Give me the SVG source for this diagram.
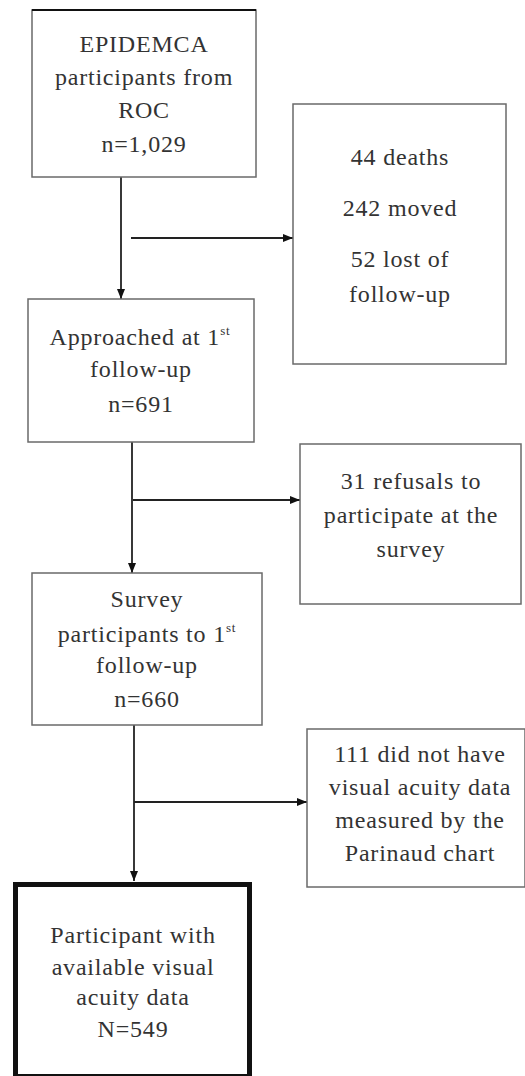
<svg xmlns="http://www.w3.org/2000/svg" width="525" height="1076" viewBox="0 0 525 1076">
<defs>
<marker id="ah" markerWidth="10" markerHeight="8" refX="10" refY="4" orient="auto" markerUnits="userSpaceOnUse">
<path d="M0,0 L10,4 L0,8 Z" fill="#111"/>
</marker>
<style>
.box{fill:#fff;stroke:#6a6a6a;stroke-width:1.5}
.thick{fill:#fff;stroke:#111;stroke-width:5}
text{font-family:'Liberation Serif','Times New Roman',serif;font-size:24px;fill:#333;text-anchor:middle;letter-spacing:0.8px}
.sup{font-size:13px}
.c{stroke:#222;stroke-width:1.8;fill:none}
</style>
</defs>
<rect width="525" height="1076" fill="#fff"/>
<g id="connectors">
<line class="c" x1="121" y1="177" x2="121" y2="299" marker-end="url(#ah)"/>
<line class="c" x1="131" y1="238" x2="293" y2="238" marker-end="url(#ah)"/>
<line class="c" x1="132" y1="442" x2="132" y2="573" marker-end="url(#ah)"/>
<line class="c" x1="133" y1="500" x2="300" y2="500" marker-end="url(#ah)"/>
<line class="c" x1="134" y1="725" x2="134" y2="881" marker-end="url(#ah)"/>
<line class="c" x1="134" y1="802" x2="307" y2="802" marker-end="url(#ah)"/>
</g>
<g id="n1">
<rect class="box" x="32" y="10" width="224" height="167"/>
<line x1="32" y1="10" x2="256" y2="10" stroke="#111" stroke-width="2"/>
<text x="144" y="52">EPIDEMCA</text>
<text x="144" y="85">participants from</text>
<text x="144" y="118">ROC</text>
<text x="144" y="152">n=1,029</text>
</g>
<g id="n2">
<rect class="box" x="293" y="104" width="213" height="260"/>
<text x="400" y="165">44 deaths</text>
<text x="400" y="216">242 moved</text>
<text x="400" y="267">52 lost of</text>
<text x="400" y="302">follow-up</text>
</g>
<g id="n3">
<rect class="box" x="28" y="299" width="226" height="143"/>
<text x="140" y="345">Approached at 1<tspan class="sup" dy="-10">st</tspan></text>
<text x="141" y="377">follow-up</text>
<text x="141" y="412">n=691</text>
</g>
<g id="n4">
<rect class="box" x="300" y="444" width="221" height="160"/>
<text x="411" y="489">31 refusals to</text>
<text x="411" y="523">participate at the</text>
<text x="411" y="557">survey</text>
</g>
<g id="n5">
<rect class="box" x="32" y="573" width="230" height="152"/>
<text x="147" y="607">Survey</text>
<text x="147" y="642">participants to 1<tspan class="sup" dy="-10">st</tspan></text>
<text x="147" y="673">follow-up</text>
<text x="147" y="707">n=660</text>
</g>
<g id="n6">
<rect class="box" x="307" y="729" width="218" height="158"/>
<text x="420" y="762">111 did not have</text>
<text x="420" y="795">visual acuity data</text>
<text x="420" y="828">measured by the</text>
<text x="420" y="861">Parinaud chart</text>
</g>
<g id="n7">
<rect class="thick" x="15.5" y="884.5" width="234" height="192"/>
<text x="133" y="943">Participant with</text>
<text x="133" y="975">available visual</text>
<text x="133" y="1005">acuity data</text>
<text x="133" y="1037">N=549</text>
</g>
</svg>
